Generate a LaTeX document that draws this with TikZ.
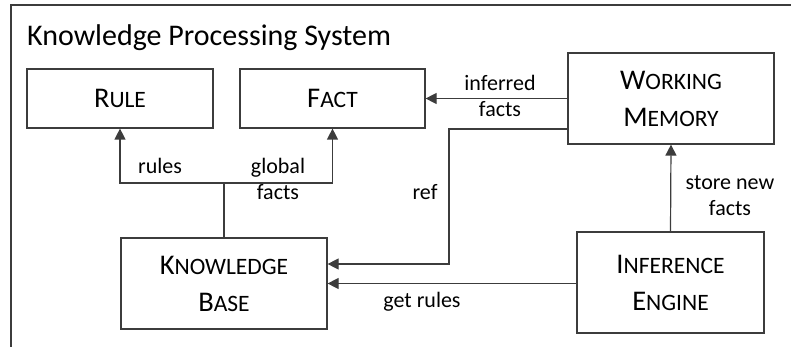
\documentclass[tikz,border=0pt]{standalone}
\usepackage{fontspec}
\setmainfont{Carlito}
\usetikzlibrary{arrows.meta}
\definecolor{edgegray}{RGB}{60,60,60}
\newcommand{\initcap}[2]{{\fontsize{28.5}{37}\selectfont #1}#2}

\begin{document}
\begin{tikzpicture}[x=1pt,y=-1pt]
  \tikzstyle{every node}=[inner sep=0pt]
  \tikzstyle{box}=[draw=edgegray, line width=1.2pt, align=center, font=\fontsize{23.5}{37}\selectfont]
  \tikzstyle{lbl}=[align=center, font=\fontsize{22}{26}\selectfont]
  \tikzstyle{flow}=[draw=edgegray, line width=1.2pt, -{Triangle[length=11pt,width=11pt]}]

  \useasboundingbox (0,0) rectangle (791,347);
  \draw [edgegray, line width=1.2pt] (11,347) -- (11,5) -- (791,5);

  \node (title) [anchor=base west, font=\fontsize{30}{34}\selectfont] at (27,46) {Knowledge Processing System};

  \node (rule) [box, minimum width=186, minimum height=59] at (120,98.5) {\initcap{R}{ULE}};
  \node (fact) [box, minimum width=185, minimum height=59] at (332.5,98.5) {\initcap{F}{ACT}};
  \node (wm) [box, minimum width=206, minimum height=91] at (671,98.5) {\initcap{W}{ORKING}\\\initcap{M}{EMORY}};
  \node (kb) [box, minimum width=206, minimum height=91] at (224,283.5) {\initcap{K}{NOWLEDGE}\\\initcap{B}{ASE}};
  \node (ie) [box, minimum width=187, minimum height=101] at (670.5,282.5) {\initcap{I}{NFERENCE}\\\initcap{E}{NGINE}};

  \coordinate (bus) at (224,183);
  \coordinate (refturn) at (449,264);

  \draw [flow] (wm.west |- fact.east) -- (fact.east);
  \draw [flow] ([yshift=-30.5pt]wm.west) -| (refturn) -- (kb.east |- refturn);
  \draw [flow] (ie.west |- kb.east) -- (kb.east);
  \draw [flow] (ie.north) -- (wm.south);
  \draw [flow] (kb.north) |- (rule.south |- bus) -- (rule.south);
  \draw [flow] (kb.north) |- (fact.south |- bus) -- (fact.south);

  \node (inferred) [lbl, anchor=base] at (500,117) {inferred\\facts};
  \node (reflbl) [lbl, anchor=base] at (425,200) {ref};
  \node (getrules) [lbl, anchor=base] at (422,307) {get rules};
  \node (store) [lbl, anchor=base] at (730,215) {store new\\facts};
  \node (rules) [lbl, anchor=base] at (160,174) {rules};
  \node (global) [lbl, anchor=base] at (278,200) {global\\facts};

\end{tikzpicture}
\end{document}
